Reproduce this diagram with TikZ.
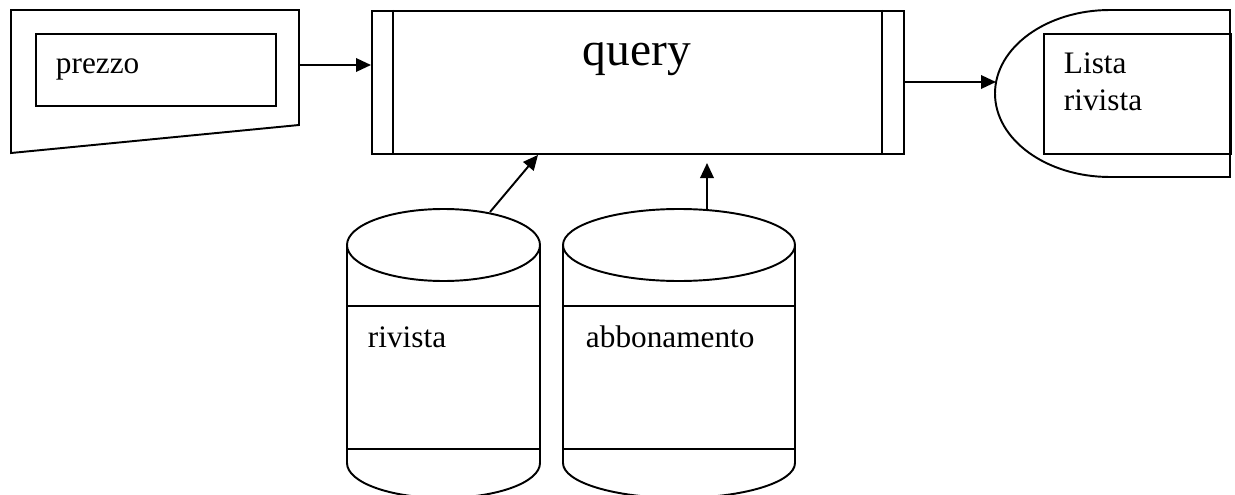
\documentclass[tikz,border=0pt]{standalone}
\usepackage{fontspec}
\setmainfont{Liberation Serif}
\usetikzlibrary{
    arrows.meta,
    calc,
    positioning
}
\tikzset{
    dfd/.style={line width=1.1pt},
    lbl/.style={font=\fontsize{17.8}{21}\selectfont, inner sep=0pt, anchor=base west},
    flow/.style={line width=1.1pt, -{Triangle[length=0.3cm, width=0.27cm]}}
}

\begin{document}
\begin{tikzpicture}[dfd]
    \useasboundingbox (0, 0) rectangle (24.7, -9.9);
    \clip (0, 0) rectangle (24.7, -9.9);

    % input prezzo
    \draw (0.22, -0.2) -- (5.98, -0.2) -- (5.98, -2.5) -- (0.22, -3.06) -- cycle;
    \node[draw, minimum width=4.8cm, minimum height=1.44cm, anchor=north west] (prezzobox) at (0.7, -0.66) {};
    \node[lbl] (prezzo) at (1.1, -1.46) {prezzo};
    \coordinate (inout) at (5.98, -1.3);

    % query
    \node[draw, minimum width=10.64cm, minimum height=2.86cm, anchor=north west] (query) at (7.42, -0.2) {};
    \draw
    ($(query.north west) + (0.44, 0)$) -- ($(query.south west) + (0.44, 0)$)
    ($(query.north east) + (-0.46, 0)$) -- ($(query.south east) + (-0.46, 0)$);
    \node[font=\fontsize{27}{32}\selectfont, inner sep=0pt, anchor=base] (querytxt) at (12.74, -1.3) {query};

    % output lista rivista
    \draw (24.6, -0.2) -- (22.2, -0.2) arc[start angle=90, end angle=270, x radius=2.3, y radius=1.67] -- (24.6, -3.54) -- cycle;
    \node[draw, minimum width=3.74cm, minimum height=2.4cm, anchor=north west] (listabox) at (20.86, -0.66) {};
    \node[lbl, anchor=north west, align=left] (lista) at (21.26, -1.04) {Lista\\rivista};
    \coordinate (outin) at (19.92, -1.64);

    % archivi
    \draw (6.94, -4.9) -- (6.94, -9.26) arc[start angle=180, end angle=360, x radius=1.93, y radius=0.7] -- (10.8, -4.9);
    \draw (8.87, -4.9) ellipse [x radius=1.93, y radius=0.72];
    \draw
    (6.94, -6.12) -- (10.8, -6.12)
    (6.94, -8.98) -- (10.8, -8.98);
    \node[lbl] (rivista) at (7.34, -6.94) {rivista};
    \coordinate (rivtop) at (9.8, -4.24);

    \draw (11.26, -4.9) -- (11.26, -9.26) arc[start angle=180, end angle=360, x radius=2.32, y radius=0.7] -- (15.9, -4.9);
    \draw (13.58, -4.9) ellipse [x radius=2.32, y radius=0.72];
    \draw
    (11.26, -6.12) -- (15.9, -6.12)
    (11.26, -8.98) -- (15.9, -8.98);
    \node[lbl] (abbonamento) at (11.7, -6.94) {abbonamento};
    \coordinate (abbtop) at (14.14, -4.2);
    \coordinate (abbhead) at (14.14, -3.26);

    % flussi
    \draw[flow] (inout) -- (query.west |- inout);
    \draw[flow] (query.east |- outin) -- (outin);
    \draw[flow] (rivtop) -- ($(query.south west) + (3.34, 0)$);
    \draw[flow] (abbtop) -- (abbhead);
\end{tikzpicture}
\end{document}
